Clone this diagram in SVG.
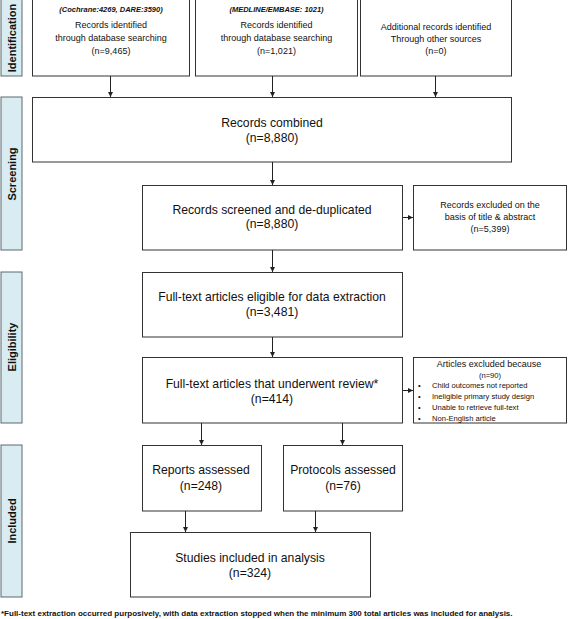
<svg xmlns="http://www.w3.org/2000/svg" width="568" height="619" viewBox="0 0 568 619">
<style>
.bar{fill:#d8ecf1;stroke:#5a6a70;stroke-width:1}
.box{fill:#fff;stroke:#333;stroke-width:1}
.lbl{font-family:"Liberation Sans",Arial,sans-serif;font-weight:bold;font-size:11px;fill:#111;text-anchor:middle}
.t{font-family:"Liberation Sans",Arial,sans-serif;fill:#111;text-anchor:middle}
.m{font-size:12.2px}
.s{font-size:9px}
.x{font-size:9px}
.i{font-size:7.5px;font-style:italic;font-weight:bold}
.l{font-family:"Liberation Sans",Arial,sans-serif;fill:#111;font-size:7.6px}
.c{stroke:#222;stroke-width:1;fill:none;marker-end:url(#ah)}
</style>
<defs>
<marker id="ah" viewBox="0 0 6 6" refX="6" refY="3" markerWidth="5" markerHeight="5" orient="auto" markerUnits="userSpaceOnUse">
<path d="M0,0 L6,3 L0,6 z" fill="#222"/>
</marker>
</defs>
<rect width="568" height="619" fill="#fff"/>
<g id="phase-identification"><rect class="bar" x="1" y="-1" width="21" height="77"/><text class="lbl" transform="translate(15.5,38) rotate(-90)">Identification</text></g>
<g id="phase-screening"><rect class="bar" x="1" y="97" width="21" height="153"/><text class="lbl" transform="translate(15.5,174) rotate(-90)">Screening</text></g>
<g id="phase-eligibility"><rect class="bar" x="1" y="272" width="21" height="151"/><text class="lbl" transform="translate(15.5,347) rotate(-90)">Eligibility</text></g>
<g id="phase-included"><rect class="bar" x="1" y="445" width="21" height="152"/><text class="lbl" transform="translate(15.5,521) rotate(-90)">Included</text></g>

<g id="n-cochrane"><rect class="box" x="32.5" y="-0.5" width="157" height="76.5"/>
<text class="t i" x="111" y="12">(Cochrane:4269, DARE:3590)</text>
<text class="t s" x="111" y="28">Records identified</text>
<text class="t s" x="111" y="41">through database searching</text>
<text class="t s" x="111" y="54">(n=9,465)</text></g>
<g id="n-medline"><rect class="box" x="195.5" y="-0.5" width="162" height="76.5"/>
<text class="t i" x="276.5" y="12">(MEDLINE/EMBASE: 1021)</text>
<text class="t s" x="276.5" y="28">Records identified</text>
<text class="t s" x="276.5" y="41">through database searching</text>
<text class="t s" x="276.5" y="54">(n=1,021)</text></g>
<g id="n-other"><rect class="box" x="360.5" y="-0.5" width="151" height="76.5"/>
<text class="t s" x="436" y="30">Additional records identified</text>
<text class="t s" x="436" y="42">Through other sources</text>
<text class="t s" x="436" y="54">(n=0)</text></g>

<g id="n-combined"><rect class="box" x="32.5" y="97.5" width="479" height="64.5"/>
<text class="t m" x="272" y="127">Records combined</text>
<text class="t m" x="272" y="142">(n=8,880)</text></g>
<g id="n-screened"><rect class="box" x="142.5" y="185.5" width="260" height="64.5"/>
<text class="t m" x="272" y="214">Records screened and de-duplicated</text>
<text class="t m" x="272" y="228">(n=8,880)</text></g>
<g id="n-excl1"><rect class="box" x="413.5" y="185.5" width="153" height="64.5"/>
<text class="t x" x="490" y="208">Records excluded on the</text>
<text class="t x" x="490" y="220">basis of title &amp; abstract</text>
<text class="t x" x="490" y="232">(n=5,399)</text></g>
<g id="n-eligible"><rect class="box" x="142.5" y="272.5" width="260" height="64.5"/>
<text class="t m" x="272" y="301">Full-text articles eligible for data extraction</text>
<text class="t m" x="272" y="316">(n=3,481)</text></g>
<g id="n-review"><rect class="box" x="142.5" y="357.5" width="260" height="65.5"/>
<text class="t m" x="272" y="388">Full-text articles that underwent review*</text>
<text class="t m" x="272" y="403">(n=414)</text></g>
<g id="n-excl2"><rect class="box" x="413.5" y="357.5" width="153" height="65.5"/>
<text class="t x" x="489" y="367">Articles excluded because</text>
<text class="l" x="490" y="378" style="text-anchor:middle">(n=90)</text>
<text class="l" x="418" y="388">•</text><text class="l" x="432" y="388">Child outcomes not reported</text>
<text class="l" x="418" y="399">•</text><text class="l" x="432" y="399">Ineligible primary study design</text>
<text class="l" x="418" y="410">•</text><text class="l" x="432" y="410">Unable to retrieve full-text</text>
<text class="l" x="418" y="421">•</text><text class="l" x="432" y="421">Non-English article</text></g>
<g id="n-reports"><rect class="box" x="142.5" y="445.5" width="119" height="65.5"/>
<text class="t m" x="201" y="474">Reports assessed</text>
<text class="t m" x="201" y="490">(n=248)</text></g>
<g id="n-protocols"><rect class="box" x="283.5" y="445.5" width="119" height="65.5"/>
<text class="t m" x="343" y="474">Protocols assessed</text>
<text class="t m" x="343" y="490">(n=76)</text></g>
<g id="n-studies"><rect class="box" x="130.5" y="532.5" width="240" height="64.5"/>
<text class="t m" x="250" y="562">Studies included in analysis</text>
<text class="t m" x="250" y="577">(n=324)</text></g>

<g id="connectors">
<path class="c" d="M110.5,76 V97"/>
<path class="c" d="M272.5,76 V97"/>
<path class="c" d="M435.5,76 V97"/>
<path class="c" d="M272.5,162 V185"/>
<path class="c" d="M403,217.5 H413"/>
<path class="c" d="M272.5,250 V272"/>
<path class="c" d="M272.5,337 V357"/>
<path class="c" d="M403,390.5 H413"/>
<path class="c" d="M201.5,423 V445"/>
<path class="c" d="M342.5,423 V445"/>
<path class="c" d="M185.5,511 V532"/>
<path class="c" d="M315.5,511 V532"/>
</g>
<text x="1" y="616" style="font-family:'Liberation Sans',Arial,sans-serif;font-weight:bold;font-size:8px;fill:#111">*Full-text extraction occurred purposively, with data extraction stopped when the minimum 300 total articles was included for analysis.</text>
</svg>
